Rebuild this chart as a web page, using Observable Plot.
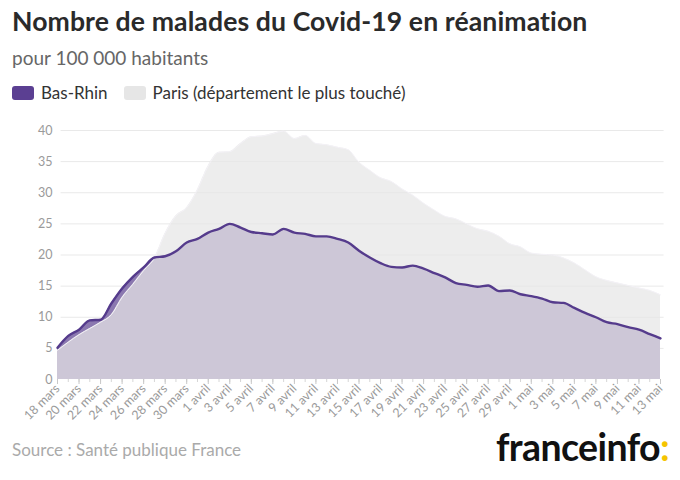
<!DOCTYPE html>
<html><head><meta charset="utf-8">
<script src="https://cdn.jsdelivr.net/npm/d3@7"></script>
<script src="https://cdn.jsdelivr.net/npm/@observablehq/plot@0.6"></script>
<style>
body{margin:0;background:#fff;font-family:Lato,"Open Sans",sans-serif;}
#wrap{position:relative;width:680px;height:480px;overflow:hidden;}
.abs{position:absolute;white-space:nowrap;}
#title{left:12px;top:5px;font-size:26.6px;font-weight:700;color:#2a2a2a;letter-spacing:0.1px;}
#sub{left:12px;top:46px;font-size:19px;color:#666;}
#legend{left:12px;top:82px;font-size:17px;color:#333;display:flex;align-items:center;}
.sw{display:inline-block;width:22px;height:14px;border-radius:3px;margin-right:7px;}
#chart{left:0;top:120px;}
#source{left:12px;top:439px;font-size:17px;color:#aaa;}
#logo{left:496px;top:424px;font-size:37.5px;font-weight:700;color:#111;letter-spacing:-0.6px;}
#logo span{color:#f5c400;}
</style></head>
<body><div id="wrap">
<div id="title" class="abs">Nombre de malades du Covid-19 en réanimation</div>
<div id="sub" class="abs">pour 100 000 habitants</div>
<div id="legend" class="abs"><span class="sw" style="background:#5b3f92"></span>Bas-Rhin<span class="sw" style="background:#e6e6e6;margin-left:16px"></span>Paris (département le plus touché)</div>
<div id="chart" class="abs"></div>
<div id="source" class="abs">Source : Santé publique France</div>
<div id="logo" class="abs">franceinfo<span>:</span></div>
</div>
<script>
const startDate = "2020-03-18";
const endDate = "2020-05-13";
const basRhin = [5.1,7.0,8.0,9.5,9.6,12.2,14.6,16.5,18.0,19.6,19.8,20.6,22.0,22.6,23.6,24.2,25.0,24.4,23.7,23.5,23.3,24.2,23.6,23.4,23.0,23.0,22.6,22.0,20.7,19.6,18.7,18.1,18.0,18.3,17.8,17.1,16.4,15.5,15.2,14.9,15.1,14.2,14.3,13.7,13.4,13.0,12.4,12.3,11.5,10.7,10.0,9.2,8.9,8.4,8.0,7.3,6.6];
const paris = [4.7,6.0,7.2,8.2,9.2,10.4,13.2,15.3,17.5,19.5,23.5,26.3,27.6,30.5,34.3,36.5,36.6,37.9,39.0,39.1,39.5,39.9,38.7,39.2,37.9,37.7,37.3,36.9,34.9,33.6,32.4,31.8,30.6,29.6,28.3,27.2,26.2,25.8,25.0,24.2,23.8,23.0,21.8,21.3,20.3,20.1,20.0,19.5,18.7,17.6,16.5,15.9,15.5,15.1,14.7,14.3,13.6];
const tickLabels = ["18 mars","20 mars","22 mars","24 mars","26 mars","28 mars","30 mars","1 avril","3 avril","5 avril","7 avril","9 avril","11 avril","13 avril","15 avril","17 avril","19 avril","21 avril","23 avril","25 avril","27 avril","29 avril","1 mai","3 mai","5 mai","7 mai","9 mai","11 mai","13 mai"];
const yTicks = [0,5,10,15,20,25,30,35,40];

const dates = d3.utcDay.range(new Date(startDate), d3.utcDay.offset(new Date(endDate), 1));
const data = dates.map((d,i)=>({date:d, br:basRhin[i], paris:paris[i]}));
const labelDates = dates.filter((d,i)=>i%2===0);
const labelMap = new Map(labelDates.map((d,i)=>[+d, tickLabels[i]]));

const chart = Plot.plot({
  width:680, height:310,
  marginTop:10, marginLeft:57, marginRight:20, marginBottom:51,
  style:{fontFamily:"Lato, sans-serif", background:"transparent"},
  x:{type:"utc", domain:[dates[0], dates[dates.length-1]]},
  y:{domain:[0,40]},
  marks:[
    Plot.ruleY(yTicks.slice(1), {stroke:"#e9e9e9", strokeWidth:1, x1:d3.utcHour.offset(dates[0],8), x2:d3.utcHour.offset(dates[dates.length-1],8)}),
    Plot.areaY(data, {x:"date", y:"br", fill:"#8b78b0", curve:"monotone-x"}),
    Plot.areaY(data, {x:"date", y:"paris", fill:"#e6e6e6", fillOpacity:0.72, curve:"monotone-x"}),
    Plot.lineY(data, {x:"date", y:"paris", stroke:"#f4f2f7", strokeWidth:1, curve:"monotone-x"}),
    Plot.lineY(data, {x:"date", y:"br", stroke:"#553b8c", strokeWidth:2.4, curve:"monotone-x"}),
    Plot.axisY({ticks:yTicks, tickSize:0, tickPadding:5, fill:"#9a9a9a", fontSize:12.5, label:null}),
    Plot.axisX({ticks:dates, tickSize:3, stroke:"#d6d6d6", tickFormat:()=> "", label:null}),
    Plot.axisX({ticks:labelDates, tickSize:5, stroke:"#c8c8c8", tickRotate:-45, tickPadding:2, fill:"#9a9a9a", fontSize:12.5, tickFormat:d=>labelMap.get(+d), label:null})
  ]
});
document.getElementById("chart").appendChild(chart);
</script>
</body></html>
